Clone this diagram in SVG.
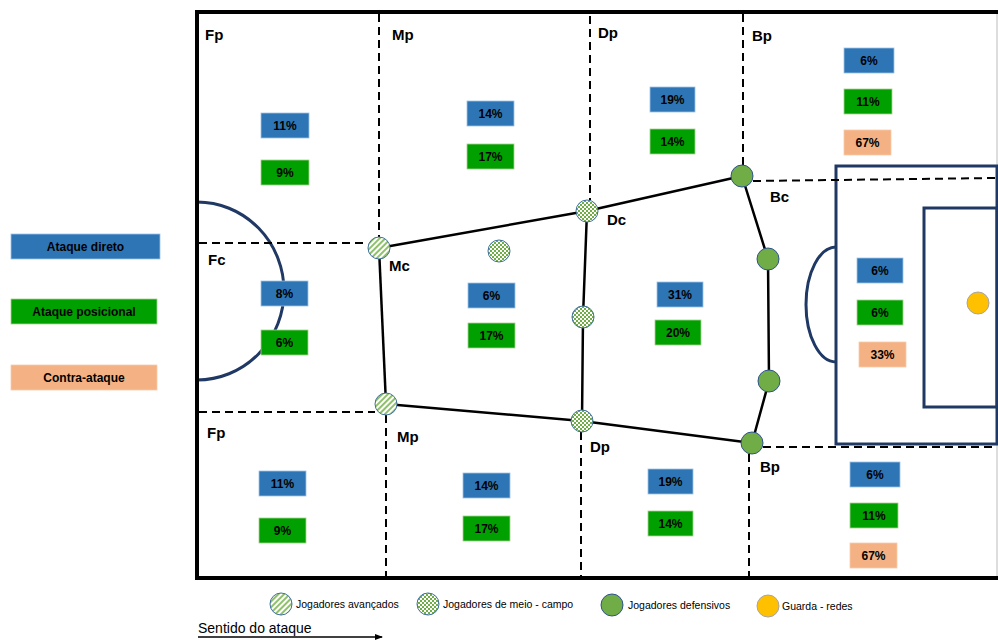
<svg xmlns="http://www.w3.org/2000/svg" width="998" height="640" viewBox="0 0 998 640">
<style>
.dash{stroke:#000;stroke-width:2;stroke-dasharray:8,5;fill:none}
.link{stroke:#000;stroke-width:2.5;fill:none}
.navy{stroke:#1f3864;stroke-width:3;fill:none}
.lbl{font-family:"Liberation Sans",Arial,sans-serif;font-weight:bold;font-size:15px;fill:#000}
.pct{font-family:"Liberation Sans",Arial,sans-serif;font-weight:bold;font-size:12px;fill:#000;text-anchor:middle}
.leg{font-family:"Liberation Sans",Arial,sans-serif;font-weight:bold;font-size:12px;fill:#000;text-anchor:middle}
.small{font-family:"Liberation Sans",Arial,sans-serif;font-size:10.5px;fill:#000}
.b{fill:#2e75b6;stroke:#9dc3e6;stroke-width:0.8}
.g{fill:#00a000;stroke:#a9d18e;stroke-width:0.8}
.o{fill:#f4b183;stroke:#f8cbad;stroke-width:0.8}
.att{fill:url(#stripes);stroke:#41719c;stroke-width:1}
.mid{fill:url(#checks);stroke:#41719c;stroke-width:1}
.def{fill:#70ad47;stroke:#2f528f;stroke-width:1}
.gk{fill:#ffc000;stroke:#a5a5a5;stroke-width:1}
</style>
<defs>
<pattern id="stripes" patternUnits="userSpaceOnUse" width="4" height="4" patternTransform="rotate(45)">
<rect width="4" height="4" fill="#ffffff"/>
<rect width="2" height="4" fill="#8fc06a"/>
</pattern>
<pattern id="checks" patternUnits="userSpaceOnUse" width="4" height="4">
<rect width="4" height="4" fill="#ffffff"/>
<rect width="2" height="2" fill="#70ad47"/>
<rect x="2" y="2" width="2" height="2" fill="#70ad47"/>
</pattern>
<marker id="arr" markerWidth="8" markerHeight="6" refX="7" refY="3" orient="auto" markerUnits="userSpaceOnUse">
<path d="M0,0 L8,3 L0,6 z" fill="#000"/>
</marker>
</defs>
<rect width="998" height="640" fill="#fff"/>

<g id="pitch">
<line x1="997" y1="12" x2="997" y2="578" stroke="#bbb" stroke-width="1"/>
<path d="M197,202 A87,89 0 0 1 197,380" class="navy"/>
<rect x="836" y="166" width="161" height="278" class="navy"/>
<rect x="924" y="208" width="73" height="199" class="navy"/>
<path d="M836,247 A30,57.5 0 0 0 836,362" class="navy"/>
<line x1="195" y1="12" x2="998" y2="12" stroke="#000" stroke-width="4"/>
<line x1="197" y1="10" x2="197" y2="580" stroke="#000" stroke-width="4"/>
<line x1="195" y1="578" x2="998" y2="578" stroke="#000" stroke-width="4"/>
</g>

<g id="zones">
<line x1="379" y1="14" x2="379" y2="237" class="dash"/>
<line x1="386" y1="415" x2="386" y2="576" class="dash"/>
<line x1="590" y1="16" x2="590" y2="200" class="dash"/>
<line x1="581" y1="432" x2="581" y2="576" class="dash"/>
<line x1="743" y1="14" x2="743" y2="165" class="dash"/>
<line x1="749" y1="454" x2="749" y2="576" class="dash"/>
<line x1="199" y1="243" x2="368" y2="243" class="dash"/>
<line x1="199" y1="412" x2="375" y2="412" class="dash"/>
<line x1="753" y1="181" x2="997" y2="178" class="dash"/>
<line x1="763" y1="447" x2="997" y2="447" class="dash"/>
</g>

<g id="connectors">
<line x1="379" y1="248" x2="587" y2="211" class="link"/>
<line x1="379" y1="248" x2="386" y2="404" class="link"/>
<line x1="386" y1="404" x2="582" y2="421" class="link"/>
<polyline points="587,211 583,317 582,421" class="link"/>
<line x1="587" y1="211" x2="742" y2="176" class="link"/>
<polyline points="742,176 768,259 769,381 752,443" class="link"/>
<line x1="582" y1="421" x2="752" y2="443" class="link"/>
</g>

<g id="players">
<circle id="p-mc" cx="379" cy="248" r="11" class="att"/>
<circle id="p-mp" cx="386" cy="404" r="11" class="att"/>
<circle id="p-dc" cx="587" cy="211" r="11" class="mid"/>
<circle id="p-m2" cx="499" cy="251" r="11" class="mid"/>
<circle id="p-m3" cx="583" cy="317" r="11" class="mid"/>
<circle id="p-dp" cx="582" cy="421" r="11" class="mid"/>
<circle id="p-d1" cx="742" cy="176" r="11" class="def"/>
<circle id="p-d2" cx="768" cy="259" r="11" class="def"/>
<circle id="p-d3" cx="769" cy="381" r="11" class="def"/>
<circle id="p-d4" cx="752" cy="443" r="11" class="def"/>
<circle id="p-gk" cx="978" cy="303" r="11" class="gk"/>
</g>

<g id="zone-labels">
<text x="205" y="40" class="lbl">Fp</text>
<text x="392" y="40" class="lbl">Mp</text>
<text x="598" y="38" class="lbl">Dp</text>
<text x="752" y="41" class="lbl">Bp</text>
<text x="208" y="265" class="lbl">Fc</text>
<text x="389" y="271" class="lbl">Mc</text>
<text x="607" y="225" class="lbl">Dc</text>
<text x="770" y="202" class="lbl">Bc</text>
<text x="207" y="438" class="lbl">Fp</text>
<text x="397" y="442" class="lbl">Mp</text>
<text x="590" y="452" class="lbl">Dp</text>
<text x="760" y="472" class="lbl">Bp</text>
</g>

<g id="box-fp-top">
<rect x="261" y="113" width="48" height="25" class="b"/><text x="285" y="130" class="pct">11%</text>
<rect x="261" y="160" width="48" height="25" class="g"/><text x="285" y="177" class="pct">9%</text>
</g>
<g id="box-mp-top">
<rect x="467" y="101" width="47" height="25" class="b"/><text x="490.5" y="118" class="pct">14%</text>
<rect x="467" y="144" width="47" height="25" class="g"/><text x="490.5" y="161" class="pct">17%</text>
</g>
<g id="box-dp-top">
<rect x="650" y="87" width="45" height="25" class="b"/><text x="672.5" y="104" class="pct">19%</text>
<rect x="650" y="129" width="45" height="25" class="g"/><text x="672.5" y="146" class="pct">14%</text>
</g>
<g id="box-bp-top">
<rect x="844" y="48" width="50" height="25" class="b"/><text x="869" y="65" class="pct">6%</text>
<rect x="844" y="89" width="48" height="25" class="g"/><text x="868" y="106" class="pct">11%</text>
<rect x="844" y="130" width="47" height="25" class="o"/><text x="867.5" y="147" class="pct">67%</text>
</g>
<g id="box-fc">
<rect x="261" y="281" width="47" height="25" class="b"/><text x="284.5" y="298" class="pct">8%</text>
<rect x="261" y="330" width="47" height="25" class="g"/><text x="284.5" y="347" class="pct">6%</text>
</g>
<g id="box-mc">
<rect x="468" y="283" width="47" height="25" class="b"/><text x="491.5" y="300" class="pct">6%</text>
<rect x="468" y="323" width="47" height="25" class="g"/><text x="491.5" y="340" class="pct">17%</text>
</g>
<g id="box-dc">
<rect x="657" y="282" width="46" height="25" class="b"/><text x="680" y="299" class="pct">31%</text>
<rect x="655" y="320" width="46" height="25" class="g"/><text x="678" y="337" class="pct">20%</text>
</g>
<g id="box-goal">
<rect x="857" y="258" width="46" height="25" class="b"/><text x="880" y="275" class="pct">6%</text>
<rect x="857" y="300" width="46" height="25" class="g"/><text x="880" y="317" class="pct">6%</text>
<rect x="859" y="342" width="47" height="25" class="o"/><text x="882.5" y="359" class="pct">33%</text>
</g>
<g id="box-fp-bot">
<rect x="259" y="471" width="47" height="25" class="b"/><text x="282.5" y="488" class="pct">11%</text>
<rect x="259" y="518" width="47" height="25" class="g"/><text x="282.5" y="535" class="pct">9%</text>
</g>
<g id="box-mp-bot">
<rect x="463" y="473" width="47" height="25" class="b"/><text x="486.5" y="490" class="pct">14%</text>
<rect x="463" y="516" width="47" height="25" class="g"/><text x="486.5" y="533" class="pct">17%</text>
</g>
<g id="box-dp-bot">
<rect x="648" y="469" width="45" height="25" class="b"/><text x="670.5" y="486" class="pct">19%</text>
<rect x="648" y="511" width="45" height="25" class="g"/><text x="670.5" y="528" class="pct">14%</text>
</g>
<g id="box-bp-bot">
<rect x="850" y="462" width="50" height="25" class="b"/><text x="875" y="479" class="pct">6%</text>
<rect x="850" y="503" width="48" height="25" class="g"/><text x="874" y="520" class="pct">11%</text>
<rect x="850" y="543" width="47" height="25" class="o"/><text x="873.5" y="560" class="pct">67%</text>
</g>

<g id="legend-types">
<rect x="11" y="234" width="149" height="25" class="b"/><text x="85.5" y="251" class="leg">Ataque direto</text>
<rect x="11" y="299" width="146" height="25" class="g"/><text x="84" y="316" class="leg">Ataque posicional</text>
<rect x="11" y="365" width="146" height="25" class="o"/><text x="84" y="382" class="leg">Contra-ataque</text>
</g>

<g id="legend-players">
<circle cx="281" cy="604" r="11" class="att"/>
<text x="296" y="608" class="small">Jogadores avançados</text>
<circle cx="428" cy="604" r="11" class="mid"/>
<text x="443" y="608" class="small">Jogadores de meio - campo</text>
<circle cx="612" cy="605" r="11" class="def"/>
<text x="628" y="609" class="small">Jogadores defensivos</text>
<circle cx="768" cy="606" r="11" class="gk"/>
<text x="782" y="610" class="small">Guarda - redes</text>
</g>

<g id="direction">
<text x="198" y="633" font-family="Liberation Sans, Arial, sans-serif" font-size="14" fill="#000">Sentido do ataque</text>
<line x1="198" y1="637" x2="382" y2="637" stroke="#000" stroke-width="1.5" marker-end="url(#arr)"/>
</g>
</svg>
